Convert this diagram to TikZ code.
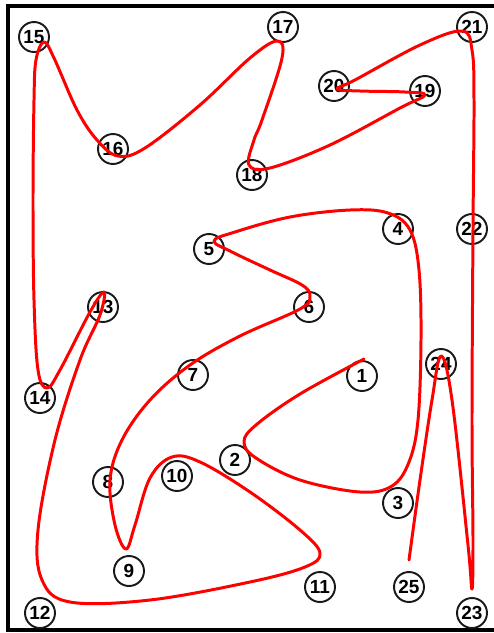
\documentclass[tikz,border=0pt]{standalone}
\usepackage{fontspec}
\setmainfont{Liberation Sans}
\usepackage{tikz}

\tikzset{
  stop/.style={circle, draw=black!90, line width=1.1pt, minimum size=0.6cm, inner sep=0pt,
    font=\bfseries\fontsize{10.8}{12}\selectfont},
  route/.style={line width=1.7pt, red, line cap=round, line join=round}
}

\begin{document}
\begin{tikzpicture}[x=0.02cm, y=-0.02cm]
\useasboundingbox (0,0) rectangle (494,633);

% frame
\draw[line width=2pt] (494,6) -- (8,6) -- (8,630) -- (494,630);

\foreach \n/\px/\py in {1/362/376, 2/235/460, 3/398/503, 4/398/229, 5/209/249, 6/309/307,
  7/193/375, 8/108/482, 9/129/571, 10/177/476, 11/320/587, 12/40/613, 13/103/307,
  14/40/398, 15/34/37, 16/113/149, 17/283/27, 18/252/175, 19/425/91, 20/334/86,
  21/472/27, 22/472/229, 23/472/613, 24/441/364, 25/409/587}
  \node[stop] (n\n) at (\px,\py) {\n};

% the route
\draw [route] plot[smooth, tension=.6] coordinates {
  (364,359) (300,394) (256,425) (244,442) (256,458) (300,480) (360,492) (392,486)
  (409,462) (418,420) (421,340) (419,270) (410,230) (388,213) (350,210) (290,217)
  (235,232) (214,241) (232,252) (270,270) (302,285) (310,296) (300,309) (240,336)
  (190,365) (150,400) (122,440) (110,480) (115,525) (126,549) (135,525) (150,478)
  (172,457) (200,462) (250,492) (300,530) (320,553) (305,567) (250,582) (150,600)
  (70,602) (42,580) (38,530) (55,440) (80,360) (100,315) (104,292) (90,312)
  (60,370) (47,388) (38,370) (34,300) (33,200) (34,100) (36,60) (44,42) (54,58)
  (77,110) (97,140) (118,156) (145,148) (200,105) (250,58) (277,41) (282,58)
  (262,120) (254,140) (249,165) (270,168) (330,145) (400,108) (425,95) (405,92)
  (360,91) (337,89) (355,80) (420,45) (462,31) (472,50) (474,100) (473,229)
  (472,420) (473,540) (472,589) (468,545) (452,400) (441,356) (432,400) (420,480)
  (409,560) };
\end{tikzpicture}
\end{document}
